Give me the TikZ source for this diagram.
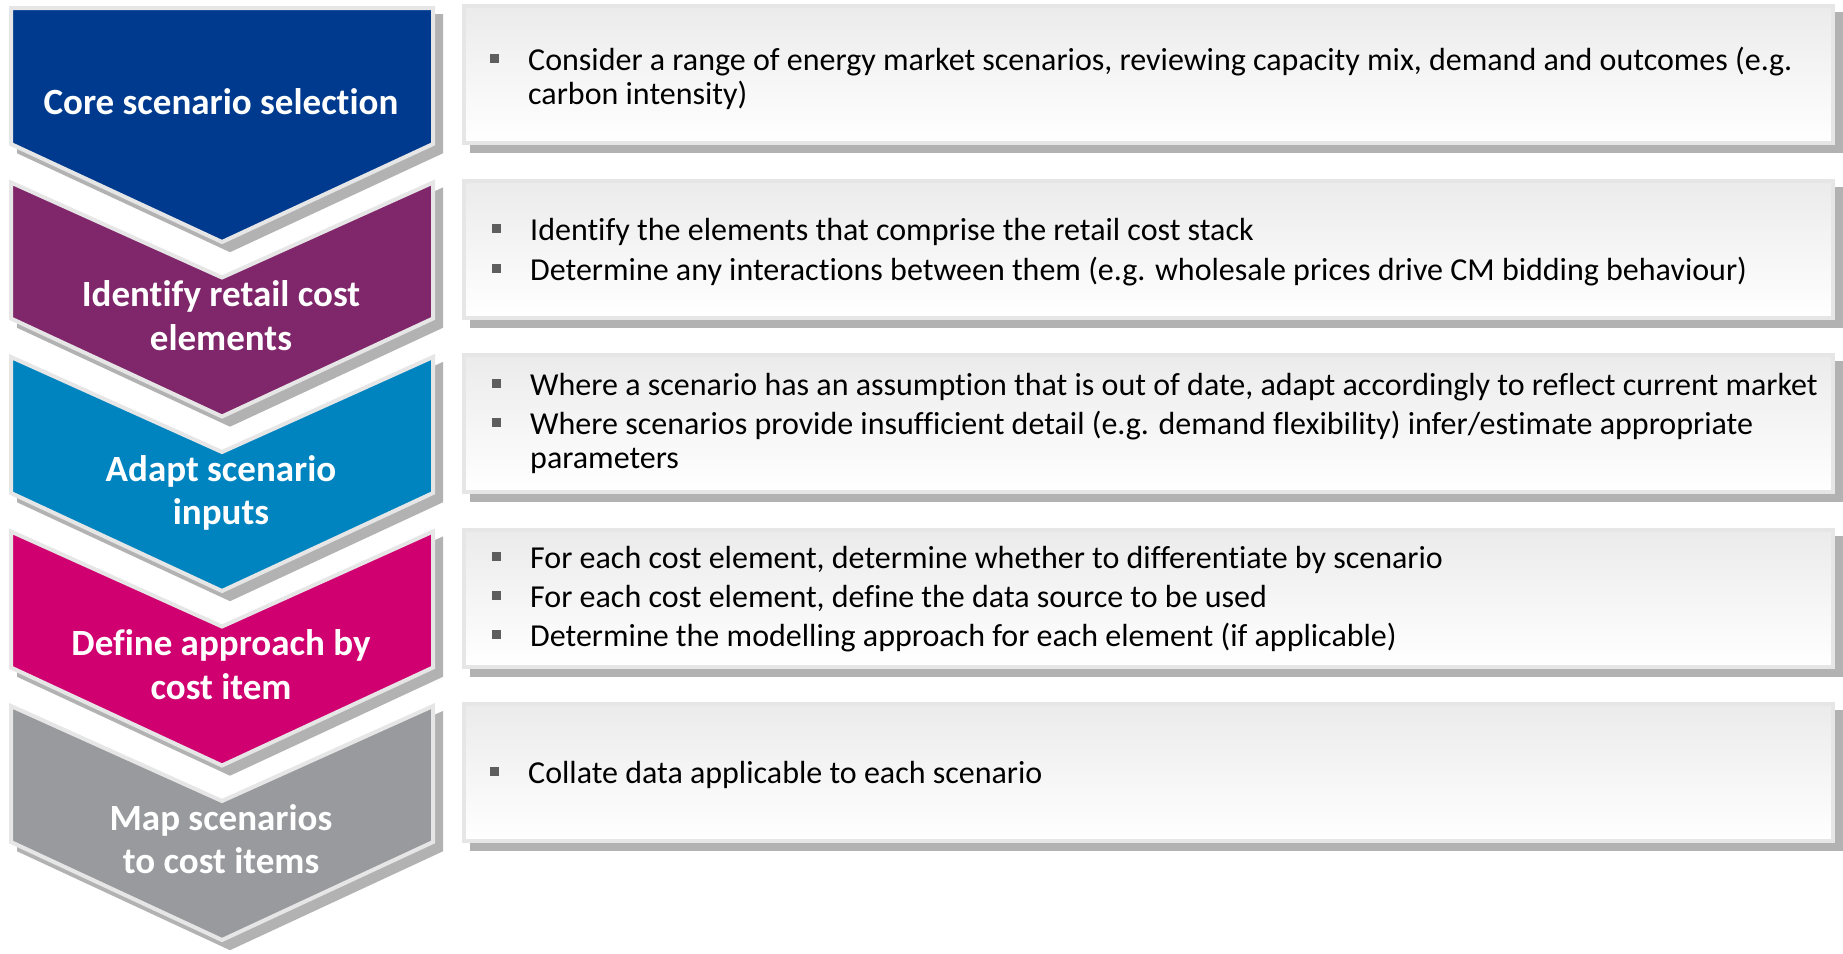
\documentclass[tikz,border=0pt]{standalone}
\usepackage{fontspec}
\setmainfont[Ligatures=NoCommon]{Carlito}

% step colours
\definecolor{stepA}{HTML}{003A8E}
\definecolor{stepB}{HTML}{80266A}
\definecolor{stepC}{HTML}{0084C0}
\definecolor{stepD}{HTML}{D00070}
\definecolor{stepE}{HTML}{999A9E}
\definecolor{rimgray}{HTML}{E6E6E6}
\definecolor{shadowgray}{HTML}{B2B2B2}
\definecolor{boxtop}{HTML}{EBEBEB}
\definecolor{bulletgray}{HTML}{5E5E5E}

% square bullet hanging to the left of a line
\newcommand\bul{\llap{\textcolor{bulletgray}{\rule[7pt]{9pt}{9pt}}\hspace{29pt}}}

\tikzset{
  rim/.style={draw=rimgray, line width=4pt, line join=miter},
  dropshadow/.style={fill=shadowgray, draw=shadowgray, line width=4pt, line join=miter},
  steplabel/.style={anchor=base, inner sep=0pt, text=white,
    font=\fontsize{37}{43}\selectfont\bfseries},
  itemtext/.style={anchor=base west, inner sep=0pt, text=black,
    font=\fontsize{32}{36}\selectfont},
}

\begin{document}
\begin{tikzpicture}[x=1pt, y=-1pt]
\useasboundingbox (0,0) rectangle (1843,953);

% ---- description boxes ----
\foreach \t in {4,178.5,353,527.5,702} {
  \fill[shadowgray] (470,\t+8) rectangle (1843,\t+149);
  \shade[top color=boxtop, bottom color=white] (464,\t+2) rectangle (1833,\t+139);
  \draw[rim] (464,\t+2) rectangle (1833,\t+139);
}

% ---- first chevron (flat top) ----
\begin{scope}[shift={(8,8)}]
  \filldraw[dropshadow] (11,8) -- (433,8) -- (433,144) -- (222,242) -- (11,144) -- cycle;
\end{scope}
\filldraw[fill=stepA, rim] (11,8) -- (433,8) -- (433,144) -- (222,242) -- (11,144) -- cycle;

% ---- notched chevrons ----
\foreach \y/\c in {182.5/stepB, 357/stepC, 531.5/stepD, 706/stepE} {
  \begin{scope}[shift={(8,8)}]
    \filldraw[dropshadow] (11,\y) -- (222,\y+95) -- (433,\y) -- (433,\y+136)
      -- (222,\y+234) -- (11,\y+136) -- cycle;
  \end{scope}
  \filldraw[fill=\c, rim] (11,\y) -- (222,\y+95) -- (433,\y) -- (433,\y+136)
    -- (222,\y+234) -- (11,\y+136) -- cycle;
}

% ---- step labels ----
\node[steplabel] (s1)  at (221,114.5) {Core scenario selection};
\node[steplabel] (s2a) at (221,306.5) {Identify retail cost};
\node[steplabel] (s2b) at (221,350) {elements};
\node[steplabel] (s3a) at (221,481) {Adapt scenario};
\node[steplabel] (s3b) at (221,524.5) {inputs};
\node[steplabel] (s4a) at (221,655.5) {Define approach by};
\node[steplabel] (s4b) at (221,699) {cost item};
\node[steplabel] (s5a) at (221,830) {Map scenarios};
\node[steplabel] (s5b) at (221,873.5) {to cost items};

% ---- descriptions ----
\node[itemtext] (d1a) at (528,70) {\bul Consider a range of energy market scenarios, reviewing capacity mix, demand and outcomes (e.g.};
\node[itemtext] (d1b) at (528,104) {carbon intensity)};

\node[itemtext] (d2a) at (530,240) {\bul Identify the elements that comprise the retail cost stack};
\node[itemtext] (d2b) at (530,280) {\bul Determine any interactions between them (e.g. wholesale prices drive CM bidding behaviour)};

\node[itemtext] (d3a) at (530,395) {\bul Where a scenario has an assumption that is out of date, adapt accordingly to reflect current market};
\node[itemtext] (d3b) at (530,434) {\bul Where scenarios provide insufficient detail (e.g. demand flexibility) infer/estimate appropriate};
\node[itemtext] (d3c) at (530,468) {parameters};

\node[itemtext] (d4a) at (530,568) {\bul For each cost element, determine whether to differentiate by scenario};
\node[itemtext] (d4b) at (530,607) {\bul For each cost element, define the data source to be used};
\node[itemtext] (d4c) at (530,646) {\bul Determine the modelling approach for each element (if applicable)};

\node[itemtext] (d5a) at (528,783) {\bul Collate data applicable to each scenario};
\end{tikzpicture}
\end{document}
